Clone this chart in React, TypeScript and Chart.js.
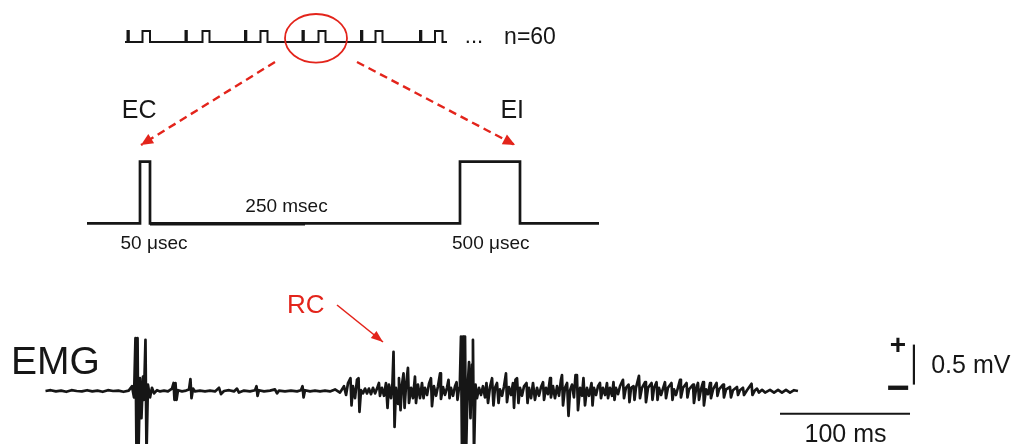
import React, { useEffect, useRef } from 'react';
import { Chart, registerables } from 'chart.js';

Chart.register(...registerables);

const W = 1017;
const H = 444;
const INK = '#161616';
const RED = '#e3241b';
const FONT = '"Liberation Sans", Arial, Helvetica, sans-serif';

// ---------------- Data (schematic part, diagram units) ----------------
const trainLevels = [42, 31]; // baseline, high
const trainExtent = [125, 447];
const trainSpikeOn = [127.5, 185.5, 245, 302.5, 361, 420];
const trainSpikeOff = [128.8, 186.8, 246.3, 303.8, 362.3, 421.3];
const trainPulseOn = [142.5, 202.5, 260.5, 318.5, 375.5, 435];
const trainPulseOff = [150, 209.5, 267.5, 325.5, 382.5, 442.5];

const stimLevels = [223.3, 161.7]; // baseline, high
const stimExtent = [87, 599];
const stimPulseOn = [140, 460]; // EC, EI
const stimPulseOff = [150, 520];
const stimIntervalX = [150, 305];
const stimIntervalY = [224.3, 224.3];

const circleCenter = [316, 38.3];
const circleRadii = [31, 24.3];

const arrowECx = [275, 141];
const arrowECy = [62, 145];
const arrowEIx = [357, 515];
const arrowEIy = [62, 145];
const arrowRCx = [337, 383];
const arrowRCy = [305, 342];

// ---------------- Data (EMG recording: [ms, mV]) ----------------
const emgTrace: [number, number][] = [
  [-75, 0], [-71, 0.01], [-67, -0.005], [-63, 0.005], [-59, -0.01], [-55, 0.01], [-51, 0], [-47, -0.005],
  [-43, 0.01], [-39, -0.005], [-35, 0.005], [-31, -0.01], [-27, 0.01], [-23, 0], [-19, 0.005], [-15, -0.01], [-11, 0.005],
  [-8.5, 0.06], [-6.9, -0.08], [-5.8, 0.66], [-5, -0.8], [-4.2, 0.66], [-3.5, -0.8], [-2.3, 0.16], [-1.2, -0.34],
  [0, 0.18], [0.7, -0.11], [1.9, 0.64], [2.7, -0.8], [3.8, 0.08], [5.4, -0.08], [6.9, 0.04], [8.5, -0.03], [10.8, 0.01],
  [13.1, -0.005], [16.2, 0.005], [19.2, -0.005], [22.3, 0.03], [23.5, 0.1], [24.2, -0.11], [25, 0.1], [25.8, -0.11],
  [26.9, 0.01], [30, -0.005], [33.1, 0.005], [35.4, 0.02], [36.5, 0.15], [37.3, -0.09], [38.5, 0.03], [40, -0.005],
  [43.8, 0.005], [47.7, -0.005], [51.5, 0.005], [55.4, -0.005], [58.5, 0.04], [60, -0.04], [62.3, 0], [66.2, 0.01],
  [70, -0.005], [72.3, 0.03], [73.8, -0.02], [77.7, 0.005], [82.3, -0.005], [86.2, 0.01], [87.3, 0.06], [88.1, -0.06],
  [89.2, 0.01], [93.1, -0.005], [97.7, 0.005], [101.5, 0.02], [103.1, -0.03], [104.6, 0.005], [109.2, -0.005],
  [113.8, 0.005], [118.5, -0.005], [121.5, 0.01], [122.7, 0.06], [123.5, -0.08], [124.6, 0.01], [128.5, -0.005],
  [132.3, 0.005], [136.2, -0.005], [140, 0.005], [143.8, -0.005], [147.7, 0.02], [151.5, -0.02],
  [154.6, 0.06], [156.2, -0.05], [157.7, 0.1], [159.6, 0.16], [160.4, -0.18], [161.5, 0.06], [163.1, -0.09],
  [164.6, 0.14], [165.8, 0.16], [166.5, -0.26], [167.7, 0.01], [169.2, -0.03], [170.8, 0.03], [172.3, -0.03],
  [173.8, 0.03], [175.4, -0.04], [176.9, 0.04], [178.5, -0.03], [180, 0.03], [181.5, 0.1], [182.3, -0.06],
  [183.8, 0.04], [185.4, -0.06], [186.9, 0.1], [188.1, -0.21], [189.2, 0.08], [190.8, -0.09], [191.9, 0.1],
  [192.7, 0.49], [193.5, -0.45], [194.6, 0.04], [196.2, -0.16], [196.9, 0.16], [198.1, -0.24], [199.2, 0.08],
  [200.4, 0.22], [201.2, -0.21], [202.3, 0.06], [203.8, 0.29], [204.6, -0.15], [206.2, 0.04], [207.7, -0.09],
  [209.2, 0.18], [210, -0.15], [211.5, 0.08], [213.1, -0.09], [214.6, 0.1], [215.8, -0.09], [216.9, 0.04],
  [218.5, -0.05], [220, 0.09], [221.5, 0.16], [222.3, -0.19], [223.8, 0.06], [225.4, -0.06], [226.9, 0.06],
  [228.5, 0.22], [229.2, -0.1], [230.8, 0.05], [232.3, -0.05], [233.8, 0.04], [235, 0.14], [235.8, -0.09],
  [236.9, 0.04], [238.5, -0.06], [240, 0.06], [241.2, 0.11], [241.9, -0.11], [243.1, 0.04],
  [243.8, 0.14], [244.6, 0.68], [245.4, -0.8], [246.2, 0.68], [246.9, -0.8], [247.7, 0.68], [248.5, -0.8],
  [249.6, 0.01], [250.8, 0.36], [251.9, -0.34], [253.1, 0.33], [253.8, 0.64], [254.6, -0.8], [255.8, 0.08],
  [256.9, -0.09], [258.5, 0.04], [260, -0.05],
  [261.5, 0.06], [263.1, -0.08], [264.2, 0.1], [265.4, -0.15], [266.9, 0.05], [268.5, 0.16], [269.6, -0.18],
  [270.8, 0.04], [272.3, 0.1], [273.5, -0.15], [274.6, 0.02], [276.2, -0.06], [277.7, 0.06], [279.2, 0.22],
  [280, -0.14], [281.5, 0.05], [283.1, -0.05], [284.6, 0.1], [285.4, -0.21], [286.5, 0.14], [287.7, 0.16],
  [288.8, -0.15], [290, 0.04], [291.5, -0.06], [293.1, 0.06], [295, 0.1], [295.8, -0.15], [296.9, 0.04],
  [298.5, -0.09], [300, 0.1], [301.5, -0.11], [303.1, 0.04], [304.6, -0.06], [306.2, 0.05], [307.7, 0.11],
  [308.5, -0.11], [310, 0.04], [311.5, -0.04], [313.1, 0.16], [313.8, -0.08], [315.4, 0.06], [316.9, -0.09],
  [318.5, 0.06], [320, -0.06], [321.5, 0.14], [322.3, 0.2], [323.1, -0.18], [324.6, 0.04], [326.2, 0.1],
  [327.3, -0.31], [328.5, 0.01], [330, 0.08], [331.5, -0.08], [332.7, 0.2], [333.8, 0.2], [334.6, -0.24],
  [336.2, 0.04], [337.7, -0.06], [338.8, 0.16], [340, -0.18], [341.5, 0.04], [343.1, -0.06], [345, 0.1],
  [345.8, -0.18], [346.9, 0.04], [348.5, -0.05], [350, 0.06], [351.5, 0.1], [352.3, -0.09], [353.8, 0.04],
  [355.4, -0.05], [356.9, 0.1], [357.7, -0.09], [359.2, 0.04], [360.8, -0.06], [361.9, 0.11], [362.7, -0.11],
  [363.8, 0.04], [365.4, -0.04], [366.9, 0.06], [369.2, 0.14], [370, -0.09], [371.5, 0.04], [373.5, 0.08],
  [374.2, -0.14], [375.4, 0.04], [377.3, 0.06], [378.1, -0.11], [379.2, 0.04], [381.5, 0.19], [382.3, -0.09],
  [383.8, 0.04], [386.2, 0.11], [386.9, -0.14], [388.5, 0.04], [391.2, 0.1], [391.9, -0.11], [393.1, 0.04],
  [395, 0.11], [395.8, -0.11], [396.9, 0.04], [398.5, -0.05], [401.5, 0.11], [402.3, -0.09], [403.8, 0.04],
  [406.5, 0.1], [407.3, -0.11], [408.5, 0.02], [410, -0.05], [413.1, 0.14], [413.8, -0.08], [415.4, 0.04],
  [418.1, 0.1], [418.8, -0.08], [420, 0.02], [423.1, 0.08], [423.8, -0.15], [425.4, 0.02], [426.9, 0.1],
  [427.7, -0.11], [429.2, 0.02], [430.8, 0.11], [431.5, -0.18], [433.1, 0.02], [434.6, -0.04], [436.2, 0.1],
  [436.9, -0.09], [438.5, 0.02], [441.2, 0.1], [441.9, -0.06], [443.1, 0.02], [446.2, 0.08], [446.9, -0.08],
  [448.5, 0.02], [451.5, 0.05], [452.3, -0.08], [453.8, 0.01], [456.9, 0.05], [457.7, -0.05], [459.2, 0.01],
  [461.5, 0.04], [462.3, -0.05], [464.6, 0.01], [468.1, 0.09], [468.8, -0.05], [470.8, 0.01], [472.3, 0.03],
  [473.8, -0.02], [476.2, 0.015], [478.5, -0.02], [482.3, 0.015], [485.4, -0.02], [488.5, 0.015], [491.5, -0.02],
  [494.6, 0.015], [497.7, -0.02], [500.8, 0.01], [503.8, 0],
];

// scale bars (in recording units)
const timeBarMs = [490, 590];
const timeBarLevelMv = -0.284;
const voltBarMs = 593;
const voltBarMv = [0.08, 0.58];

// ---------------- Annotation layout ----------------
type Label = { text: string; x: number; y: number; size: number; color?: string; bold?: boolean };
const labels: Label[] = [
  { text: '...', x: 474, y: 43, size: 22 },
  { text: 'n=60', x: 530, y: 43.5, size: 23 },
  { text: 'EC', x: 139.2, y: 118.3, size: 25 },
  { text: 'EI', x: 512.2, y: 118.3, size: 25 },
  { text: '250 msec', x: 286.5, y: 211.7, size: 19 },
  { text: '50 \u03bcsec', x: 154, y: 249.3, size: 19 },
  { text: '500 \u03bcsec', x: 490.8, y: 249.3, size: 19 },
  { text: 'EMG', x: 55.5, y: 373.5, size: 39 },
  { text: 'RC', x: 305.8, y: 313.3, size: 26, color: RED },
  { text: '+', x: 898, y: 354, size: 28, bold: true },
  { text: '\u2212', x: 898, y: 401, size: 40, bold: true },
  { text: '0.5 mV', x: 970.8, y: 373, size: 25 },
  { text: '100 ms', x: 845.5, y: 442, size: 25 },
];

function pulseTrace(extent: number[], levels: number[], ons: number[], offs: number[]) {
  const pts: { x: number; y: number }[] = [{ x: extent[0], y: levels[0] }];
  const order = ons.map((on, i) => [on, offs[i]]).sort((a, b) => a[0] - b[0]);
  order.forEach(([on, off]) => {
    pts.push({ x: on, y: levels[0] }, { x: on, y: levels[1] }, { x: off, y: levels[1] }, { x: off, y: levels[0] });
  });
  pts.push({ x: extent[1], y: levels[0] });
  return pts;
}

const zip = (xs: number[], ys: number[]) => xs.map((x, i) => ({ x, y: ys[i] }));

const overlayPlugin = {
  id: 'overlay',
  afterDatasetsDraw(chart: any) {
    const ctx: CanvasRenderingContext2D = chart.ctx;
    const sx = chart.scales.x;
    const sy = chart.scales.y;
    ctx.save();
    // ellipse around one stimulus pair
    const cx = sx.getPixelForValue(circleCenter[0]);
    const cy = sy.getPixelForValue(circleCenter[1]);
    const rx = Math.abs(sx.getPixelForValue(circleCenter[0] + circleRadii[0]) - cx);
    const ry = Math.abs(sy.getPixelForValue(circleCenter[1] + circleRadii[1]) - cy);
    ctx.strokeStyle = RED;
    ctx.lineWidth = 1.8;
    ctx.beginPath();
    ctx.ellipse(cx, cy, rx, ry, 0, 0, Math.PI * 2);
    ctx.stroke();

    // arrowheads
    chart.data.datasets.forEach((ds: any, i: number) => {
      if (!ds.arrowHead) return;
      const pts = chart.getDatasetMeta(i).data;
      const a = pts[pts.length - 2];
      const b = pts[pts.length - 1];
      const ang = Math.atan2(b.y - a.y, b.x - a.x);
      const L = ds.arrowHead.length;
      const Wd = ds.arrowHead.width / 2;
      const bx = b.x - L * Math.cos(ang);
      const by = b.y - L * Math.sin(ang);
      ctx.fillStyle = ds.borderColor;
      ctx.beginPath();
      ctx.moveTo(b.x, b.y);
      ctx.lineTo(bx + Wd * Math.sin(ang), by - Wd * Math.cos(ang));
      ctx.lineTo(bx - Wd * Math.sin(ang), by + Wd * Math.cos(ang));
      ctx.closePath();
      ctx.fill();
    });

    // labels
    ctx.textAlign = 'center';
    ctx.textBaseline = 'alphabetic';
    labels.forEach((l) => {
      ctx.fillStyle = l.color || INK;
      ctx.font = `${l.bold ? 'bold ' : ''}${l.size}px ${FONT}`;
      ctx.fillText(l.text, sx.getPixelForValue(l.x), sy.getPixelForValue(l.y));
    });
    ctx.restore();
  },
};

export default function App() {
  const ref = useRef<HTMLCanvasElement>(null);

  useEffect(() => {
    if (!ref.current) return;
    const trainOns = [...trainSpikeOn, ...trainPulseOn];
    const trainOffs = [...trainSpikeOff, ...trainPulseOff];
    const base = { showLine: true, pointRadius: 0, pointHoverRadius: 0, tension: 0, fill: false };
    const chart = new Chart(ref.current, {
      type: 'scatter',
      data: {
        datasets: [
          { ...base, label: 'train', data: pulseTrace(trainExtent, trainLevels, trainOns, trainOffs), borderColor: INK, borderWidth: 2, xAxisID: 'x', yAxisID: 'y' },
          { ...base, label: 'stimulus', data: pulseTrace(stimExtent, stimLevels, stimPulseOn, stimPulseOff), borderColor: INK, borderWidth: 2.7, xAxisID: 'x', yAxisID: 'y' },
          { ...base, label: 'interval', data: zip(stimIntervalX, stimIntervalY), borderColor: INK, borderWidth: 2.2, xAxisID: 'x', yAxisID: 'y' },
          { ...base, label: 'toEC', data: zip(arrowECx, arrowECy), borderColor: RED, borderWidth: 2.4, borderDash: [8, 5], arrowHead: { length: 12, width: 11 }, xAxisID: 'x', yAxisID: 'y' } as any,
          { ...base, label: 'toEI', data: zip(arrowEIx, arrowEIy), borderColor: RED, borderWidth: 2.4, borderDash: [8, 5], arrowHead: { length: 12, width: 11 }, xAxisID: 'x', yAxisID: 'y' } as any,
          { ...base, label: 'toRC', data: zip(arrowRCx, arrowRCy), borderColor: RED, borderWidth: 1.6, arrowHead: { length: 12, width: 9 }, xAxisID: 'x', yAxisID: 'y' } as any,
          { ...base, label: 'EMG', data: emgTrace.map(([t, v]) => ({ x: t, y: v })), borderColor: INK, borderWidth: 2.7, borderJoinStyle: 'round', xAxisID: 'xe', yAxisID: 'ye' },
          { ...base, label: '100 ms', data: timeBarMs.map((t) => ({ x: t, y: timeBarLevelMv })), borderColor: INK, borderWidth: 2, xAxisID: 'xe', yAxisID: 'ye' },
          { ...base, label: '0.5 mV', data: voltBarMv.map((v) => ({ x: voltBarMs, y: v })), borderColor: INK, borderWidth: 2.2, xAxisID: 'xe', yAxisID: 'ye' },
        ],
      },
      options: {
        animation: false,
        responsive: false,
        events: [],
        layout: { padding: 0 },
        plugins: { legend: { display: false }, tooltip: { enabled: false } },
        scales: {
          x: { type: 'linear', display: false, min: 0, max: W },
          y: { type: 'linear', display: false, min: 0, max: H, reverse: true },
          xe: { type: 'linear', axis: 'x', position: 'bottom', display: false, min: -110, max: 672.3 },
          ye: { type: 'linear', axis: 'y', position: 'left', display: false, min: -0.6625, max: 4.8875 },
        },
      },
      plugins: [overlayPlugin],
    } as any);
    return () => chart.destroy();
  }, []);

  return (
    <div style={{ position: 'absolute', left: 0, top: 0, width: W, height: H, background: '#fff' }}>
      <canvas ref={ref} width={W} height={H} style={{ display: 'block' }} />
    </div>
  );
}
